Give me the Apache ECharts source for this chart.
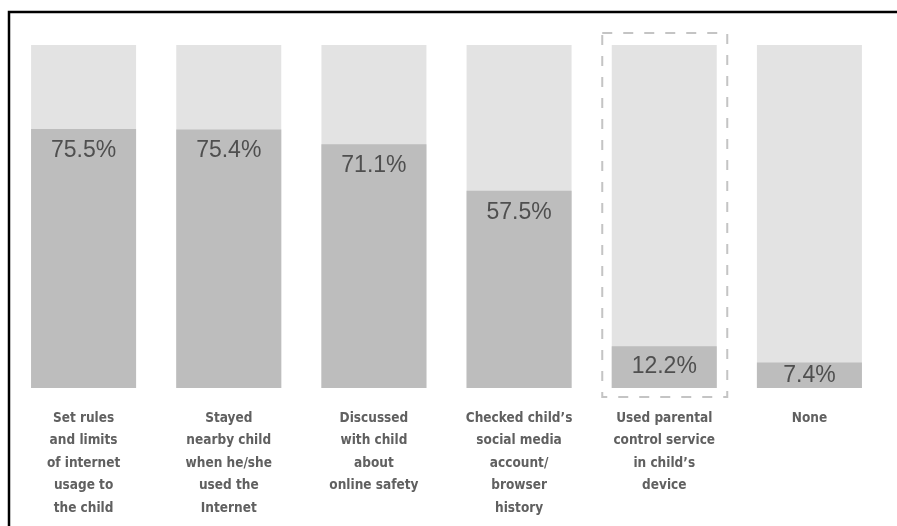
<!DOCTYPE html>
<html>
<head>
<meta charset="utf-8">
<script src="https://cdn.jsdelivr.net/npm/echarts@6/dist/echarts.min.js"></script>
<style>
html,body{margin:0;padding:0;background:#fff;}
#main{width:897px;height:526px;}
</style>
</head>
<body>
<div id="main"></div>
<script>
const categories = [
  "Set rules\nand limits\nof internet\nusage to\nthe child",
  "Stayed\nnearby child\nwhen he/she\nused the\nInternet",
  "Discussed\nwith child\nabout\nonline safety",
  "Checked child’s\nsocial media\naccount/\nbrowser\nhistory",
  "Used parental\ncontrol service\nin child’s\ndevice",
  "None"
];
const values = [75.5, 75.4, 71.1, 57.5, 12.2, 7.4];
const highlightIndex = 4;

const chart = echarts.init(document.getElementById('main'), null, {renderer: 'canvas'});
const option = {
  animation: false,
  grid: {left: 11, right: 15, top: 45, bottom: 138},
  xAxis: {
    type: 'category',
    data: categories,
    axisLine: {show: false},
    axisTick: {show: false},
    axisLabel: {
      interval: 0,
      margin: 19,
      color: '#606060',
      fontFamily: '"DejaVu Sans Condensed", sans-serif',
      fontWeight: 'bold',
      fontSize: 13.5,
      lineHeight: 22.5
    }
  },
  yAxis: {
    type: 'value', min: 0, max: 100,
    show: false
  },
  series: [{
    type: 'bar',
    barWidth: 105,
    showBackground: true,
    backgroundStyle: {color: '#e3e3e3'},
    itemStyle: {color: '#bdbdbd'},
    label: {
      show: true,
      position: 'insideTop',
      distance: 10,
      color: '#4f4f4f',
      fontFamily: '"Liberation Sans", Arial, sans-serif',
      fontSize: 23,
      formatter: p => p.value.toFixed(1) + '%'
    },
    data: values.map(v => v < 20 ? {value: v, label: {position: 'inside'}} : v)
  }]
};
chart.setOption(option);

// decorations: frame and dashed highlight box
const topLeft = chart.convertToPixel({gridIndex: 0}, [highlightIndex, 100]);
const bottom = chart.convertToPixel({gridIndex: 0}, [highlightIndex, 0]);
const cx = topLeft[0];
chart.setOption({
  graphic: [
    {
      type: 'polyline',
      shape: {points: [[9, 526], [9, 12], [897, 12]]},
      style: {stroke: '#000', lineWidth: 2.5, fill: null}
    },
    {
      type: 'rect',
      shape: {x: cx - 62, y: topLeft[1] - 12, width: 125, height: bottom[1] - topLeft[1] + 21},
      style: {stroke: '#c4c4c4', lineWidth: 2, fill: null, lineDash: [10, 11]}
    }
  ]
});
</script>
</body>
</html>
